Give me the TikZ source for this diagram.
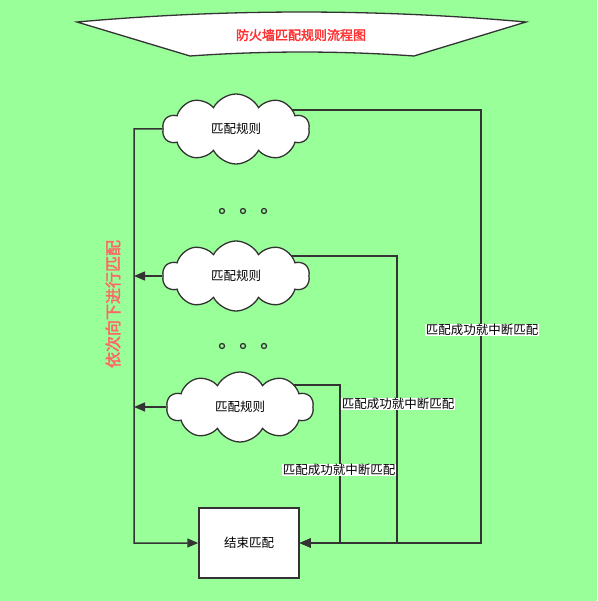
\documentclass[tikz,border=0pt]{standalone}
\usepackage{fontspec}
\newfontfamily\cjk{Noto Sans CJK SC}
\newfontfamily\cjkb[FakeBold=2.5]{Noto Sans CJK SC}
\usetikzlibrary{arrows.meta,shapes.symbols,backgrounds}
\definecolor{bgc}{HTML}{99FF99}
\definecolor{linec}{HTML}{333333}
\definecolor{titlec}{HTML}{FF3333}
\definecolor{sidec}{HTML}{FF6666}
\begin{document}
\begin{tikzpicture}[x=1pt,y=-1pt,>={Triangle[length=11pt,width=9pt]},line width=1.5pt,
  rule/.style={cloud,cloud puffs=10,cloud puff arc=125,aspect=2.1,draw=linec,fill=white,
    line width=1.3pt,minimum width=147pt,minimum height=70pt,inner sep=0pt,
    font=\cjk\fontsize{12.5}{14}\selectfont},
  flow/.style={draw=linec,line width=1.5pt},
  lab/.style={fill=white,inner sep=0.6pt,font=\cjk\fontsize{12.5}{14}\selectfont}]
\useasboundingbox (0,0) rectangle (597,601);
% banner
\draw[linec,fill=white,line width=1.3pt] (77,22) .. controls (227,8.7) and (376,8.7) .. (526,22)
  -- (414,56) .. controls (340,50.7) and (265,50.7) .. (190,56) -- cycle;
\node[text=titlec,font=\cjkb\fontsize{13}{15}\selectfont] (title) at (301,35) {防火墙匹配规则流程图};
% rules
\node[rule] (c1) at (236,129) {匹配规则};
\node[rule] (c2) at (236,276) {匹配规则};
\node[rule] (c3) at (240,407) {匹配规则};
\node[draw=linec,fill=white,line width=1.5pt,minimum width=100pt,minimum height=70pt,
  font=\cjk\fontsize{12.5}{14}\selectfont] (endb) at (249,543) {结束匹配};
\foreach \y in {211,346}
  \foreach \x in {222,243,264}
    \draw[linec,line width=1.3pt] (\x,\y) circle (2.5pt);
\node[rotate=90,text=sidec,font=\cjkb\fontsize{16}{18}\selectfont] (side) at (113,304) {依次向下进行匹配};
% corners
\coordinate (lt) at (134,129);
\coordinate (lb) at (134,543);
\coordinate (r1) at (481,543);
\coordinate (r2) at (397,543);
\coordinate (r3) at (340,543);
\begin{scope}[on background layer]
\fill[bgc] (0,0) rectangle (597,601);
\draw[flow,->] (c1.west) -- (lt) -- (lb) -- (endb.west);
\draw[flow,->] (c2.west) -- (lt |- c2.west);
\draw[flow,->] (c3.west) -- (lt |- c3.west);
\draw[flow,->] ([yshift=19pt]c1.center) -| (r1) -- (endb.east);
\draw[flow,->] ([yshift=20pt]c2.center) -| (r2) -- (endb.east);
\draw[flow,->] ([yshift=22pt]c3.center) -| (r3) -- (endb.east);
\end{scope}
\node[lab] (l1) at (482,330) {匹配成功就中断匹配};
\node[lab] (l2) at (398,404) {匹配成功就中断匹配};
\node[lab] (l3) at (339,470) {匹配成功就中断匹配};
\end{tikzpicture}
\end{document}
